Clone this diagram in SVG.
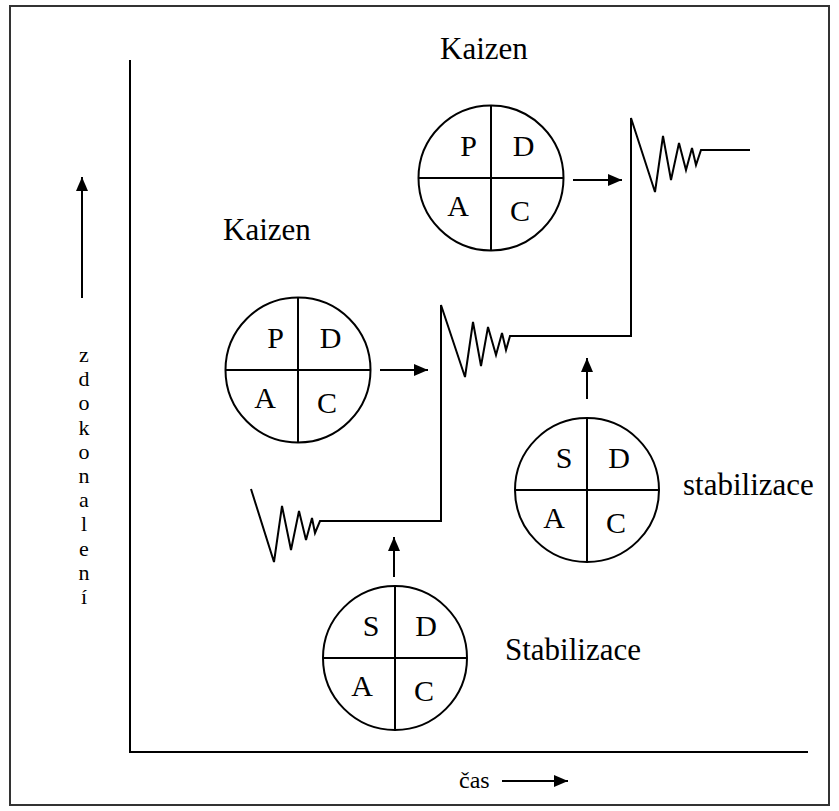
<svg xmlns="http://www.w3.org/2000/svg" width="839" height="811" viewBox="0 0 839 811">
<style>
.ln{fill:none;stroke:#000;stroke-width:2}
.cir{fill:#fff;stroke:#000;stroke-width:2}
.t{font-family:"Liberation Serif","Times New Roman",serif;fill:#000}
.lt{font-size:30px;text-anchor:middle}
.lb{font-size:31px}
.ax{font-size:22px;text-anchor:middle}
</style>
<defs>
<marker id="ah" viewBox="0 0 14 12" refX="14" refY="6" markerWidth="14" markerHeight="12" markerUnits="userSpaceOnUse" orient="auto">
<path d="M0,0 L14,6 L0,12 Z" fill="#000"/>
</marker>
</defs>
<rect x="0" y="0" width="839" height="811" fill="#fff"/>
<rect x="10" y="6" width="819" height="799" fill="none" stroke="#333" stroke-width="2"/>
<g id="axes">
<polyline class="ln" points="130,60 130,752 808,752"/>
</g>
<g id="axis-labels">
<line class="ln" x1="82" y1="298" x2="82" y2="177" marker-end="url(#ah)"/>
<text class="t ax" x="84"><tspan x="84" y="362">z</tspan><tspan x="84" y="386">d</tspan><tspan x="84" y="410">o</tspan><tspan x="84" y="435">k</tspan><tspan x="84" y="459">o</tspan><tspan x="84" y="483">n</tspan><tspan x="84" y="507">a</tspan><tspan x="84" y="531">l</tspan><tspan x="84" y="556">e</tspan><tspan x="84" y="580">n</tspan><tspan x="84" y="604">í</tspan></text>
<text class="t" x="459" y="788" font-size="24">čas</text>
<line class="ln" x1="502" y1="781" x2="568" y2="781" marker-end="url(#ah)"/>
</g>
<g id="curve">
<polyline class="ln" points="251,489 274,562 282,506 291,550 299,511 306,540 312,518 315,533 320,521 441,521 441,305 465,377 473,322 481,366 488,327 496,355 502,333 506,350 510,336 631,336 631,118 655,192 663,136 671,180 679,143 686,170 692,148 696,165 701,150 750,150"/>
</g>
<g id="pdca1">
<circle class="cir" cx="491" cy="178" r="72.5"/>
<path class="ln" d="M491,105.5V250.5M418.5,178H563.5"/>
<text class="t lt" x="468.5" y="156">P</text>
<text class="t lt" x="523.5" y="156">D</text>
<text class="t lt" x="458" y="216">A</text>
<text class="t lt" x="520" y="221">C</text>
</g>
<g id="pdca2">
<circle class="cir" cx="298" cy="370" r="72.5"/>
<path class="ln" d="M298,297.5V442.5M225.5,370H370.5"/>
<text class="t lt" x="275.5" y="348">P</text>
<text class="t lt" x="330.5" y="348">D</text>
<text class="t lt" x="265" y="408">A</text>
<text class="t lt" x="327" y="413">C</text>
</g>
<g id="sdca1">
<circle class="cir" cx="587" cy="490" r="72"/>
<path class="ln" d="M587,418V562M515,490H659"/>
<text class="t lt" x="564" y="468">S</text>
<text class="t lt" x="619" y="468">D</text>
<text class="t lt" x="554" y="528">A</text>
<text class="t lt" x="616" y="533">C</text>
</g>
<g id="sdca2">
<circle class="cir" cx="395" cy="658" r="72"/>
<path class="ln" d="M395,586V730M323,658H467"/>
<text class="t lt" x="371" y="636">S</text>
<text class="t lt" x="426" y="636">D</text>
<text class="t lt" x="362" y="696">A</text>
<text class="t lt" x="424" y="701">C</text>
</g>
<g id="labels">
<text class="t lb" x="440" y="59">Kaizen</text>
<text class="t lb" x="223" y="240">Kaizen</text>
<text class="t lb" x="683" y="495">stabilizace</text>
<text class="t lb" x="505" y="660">Stabilizace</text>
</g>
<g id="connectors">
<line class="ln" x1="573" y1="180" x2="622" y2="180" marker-end="url(#ah)"/>
<line class="ln" x1="380" y1="370" x2="428" y2="370" marker-end="url(#ah)"/>
<line class="ln" x1="587" y1="399" x2="587" y2="358" marker-end="url(#ah)"/>
<line class="ln" x1="394" y1="577" x2="394" y2="537" marker-end="url(#ah)"/>
</g>
</svg>
